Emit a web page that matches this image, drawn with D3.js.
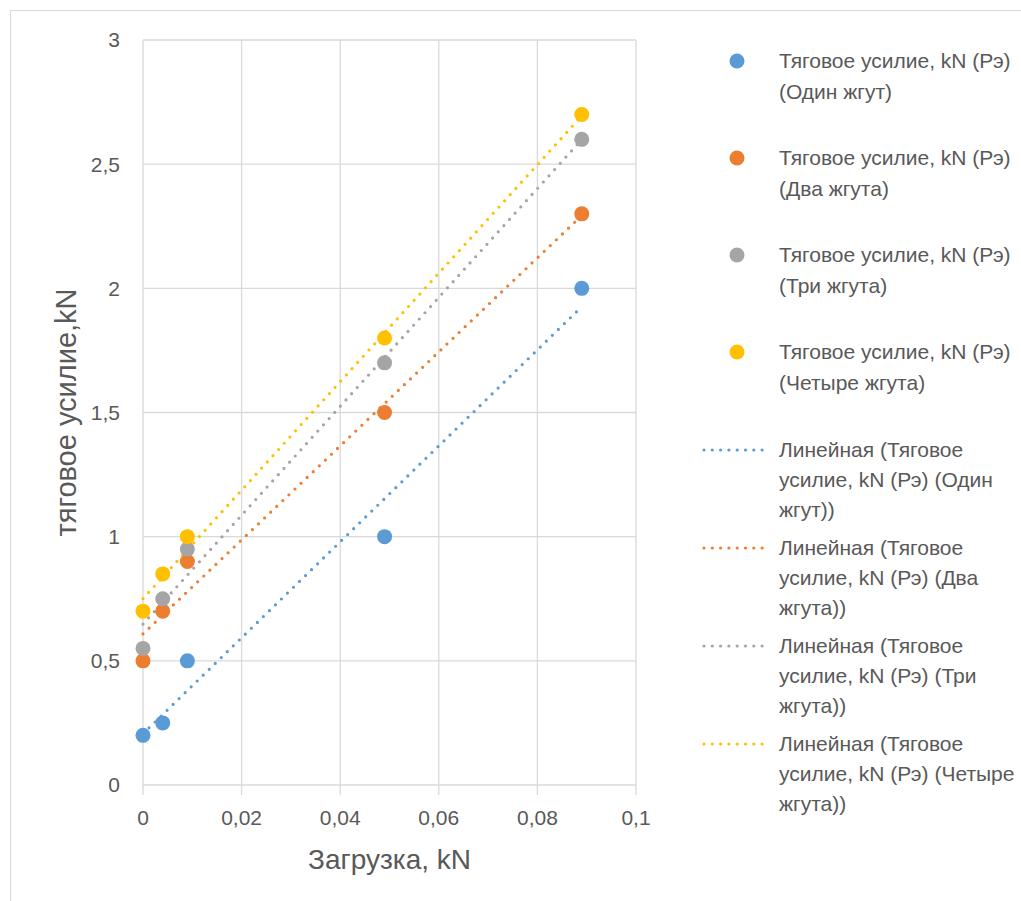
<!DOCTYPE html>
<html><head><meta charset="utf-8">
<script src="https://cdn.jsdelivr.net/npm/d3@7"></script>
<style>body{margin:0;background:#fff}svg{display:block}text{font-family:"Liberation Sans",Arial,sans-serif;fill:#595959}</style>
</head><body>
<script>
const xValues = [0, 0.004, 0.009, 0.049, 0.089];
const seriesNames = [
  ["Тяговое усилие, kN (Рэ)", "(Один жгут)"],
  ["Тяговое усилие, kN (Рэ)", "(Два жгута)"],
  ["Тяговое усилие, kN (Рэ)", "(Три жгута)"],
  ["Тяговое усилие, kN (Рэ)", "(Четыре жгута)"]
];
const trendNames = [
  ["Линейная (Тяговое", "усилие, kN (Рэ) (Один", "жгут))"],
  ["Линейная (Тяговое", "усилие, kN (Рэ) (Два", "жгута))"],
  ["Линейная (Тяговое", "усилие, kN (Рэ) (Три", "жгута))"],
  ["Линейная (Тяговое", "усилие, kN (Рэ) (Четыре", "жгута))"]
];
const oneStrand = [0.2, 0.25, 0.5, 1.0, 2.0];
const twoStrands = [0.5, 0.7, 0.9, 1.5, 2.3];
const threeStrands = [0.55, 0.75, 0.95, 1.7, 2.6];
const fourStrands = [0.7, 0.85, 1.0, 1.8, 2.7];
const colors = ["#5b9bd5", "#ed7d31", "#a5a5a5", "#ffc000"];
const xTicks = [0, 0.02, 0.04, 0.06, 0.08, 0.1];
const yTicks = [0, 0.5, 1, 1.5, 2, 2.5, 3];
const xTitle = "Загрузка, kN";
const yTitle = "тяговое усилие,kN";

const series = [oneStrand, twoStrands, threeStrands, fourStrands];
const W = 1021, H = 901;
const svg = d3.select("body").append("svg").attr("width", W).attr("height", H);

svg.append("rect").attr("x", 10.5).attr("y", 10.5).attr("width", 1100).attr("height", 1000)
  .attr("fill", "none").attr("stroke", "#d9d9d9").attr("stroke-width", 1);

const x = d3.scaleLinear().domain([0, 0.1]).range([143, 636]);
const y = d3.scaleLinear().domain([0, 3]).range([785, 40]);
const fmt = v => String(v).replace(".", ",");

const grid = svg.append("g");
grid.selectAll(".vg").data(xTicks).join("line")
  .attr("x1", d => x(d)).attr("x2", d => x(d)).attr("y1", y(3)).attr("y2", y(0) + 10)
  .attr("stroke", "#d9d9d9").attr("stroke-width", 1.3);
grid.selectAll(".hg").data(yTicks).join("line")
  .attr("x1", x(0)).attr("x2", x(0.1)).attr("y1", d => y(d)).attr("y2", d => y(d))
  .attr("stroke", "#d9d9d9").attr("stroke-width", 1.3);

svg.append("g").selectAll("text").data(yTicks).join("text")
  .attr("x", 120).attr("y", d => y(d)).attr("dy", "0.35em").attr("text-anchor", "end")
  .attr("font-size", 21).text(d => fmt(d));
svg.append("g").selectAll("text").data(xTicks).join("text")
  .attr("x", d => x(d)).attr("y", 817.5).attr("dy", "0.35em").attr("text-anchor", "middle")
  .attr("font-size", 21).text(d => fmt(d));

svg.append("text").attr("x", (x(0) + x(0.1)) / 2).attr("y", 859).attr("dy", "0.35em")
  .attr("text-anchor", "middle").attr("font-size", 28).text(xTitle);
svg.append("text").attr("transform", `translate(66,${(y(0) + y(3)) / 2}) rotate(-90)`)
  .attr("dy", "0.35em").attr("text-anchor", "middle").attr("font-size", 29).text(yTitle);

function regress(xs, ys) {
  const mx = d3.mean(xs), my = d3.mean(ys);
  let sxy = 0, sxx = 0;
  xs.forEach((v, i) => { sxy += (v - mx) * (ys[i] - my); sxx += (v - mx) * (v - mx); });
  const b = sxy / sxx;
  return { b, a: my - b * mx };
}
const xMin = d3.min(xValues), xMax = d3.max(xValues);

series.forEach((s, i) => {
  const { a, b } = regress(xValues, s);
  svg.append("line")
    .attr("x1", x(xMin)).attr("y1", y(a + b * xMin))
    .attr("x2", x(xMax)).attr("y2", y(a + b * xMax))
    .attr("stroke", colors[i]).attr("stroke-width", 3.2)
    .attr("stroke-linecap", "round").attr("stroke-dasharray", "0 8.4");
});

series.forEach((s, i) => {
  svg.append("g").selectAll("circle").data(s).join("circle")
    .attr("cx", (d, j) => x(xValues[j])).attr("cy", d => y(d)).attr("r", 7.5)
    .attr("fill", colors[i]);
});

// legend
const leg = svg.append("g");
seriesNames.forEach((lines, i) => {
  const cy = 61 + i * 97;
  leg.append("circle").attr("cx", 737).attr("cy", cy).attr("r", 7.5).attr("fill", colors[i]);
  lines.forEach((t, k) => {
    leg.append("text").attr("x", 779).attr("y", cy + k * 31).attr("dy", "0.35em")
      .attr("font-size", 21).text(t);
  });
});
trendNames.forEach((lines, i) => {
  const cy = 450 + i * 98;
  leg.append("line").attr("x1", 704).attr("x2", 770).attr("y1", cy).attr("y2", cy)
    .attr("stroke", colors[i]).attr("stroke-width", 3.2)
    .attr("stroke-linecap", "round").attr("stroke-dasharray", "0 8.3");
  lines.forEach((t, k) => {
    leg.append("text").attr("x", 779).attr("y", cy + k * 30).attr("dy", "0.35em")
      .attr("font-size", 21).text(t);
  });
});
</script>
</body></html>
